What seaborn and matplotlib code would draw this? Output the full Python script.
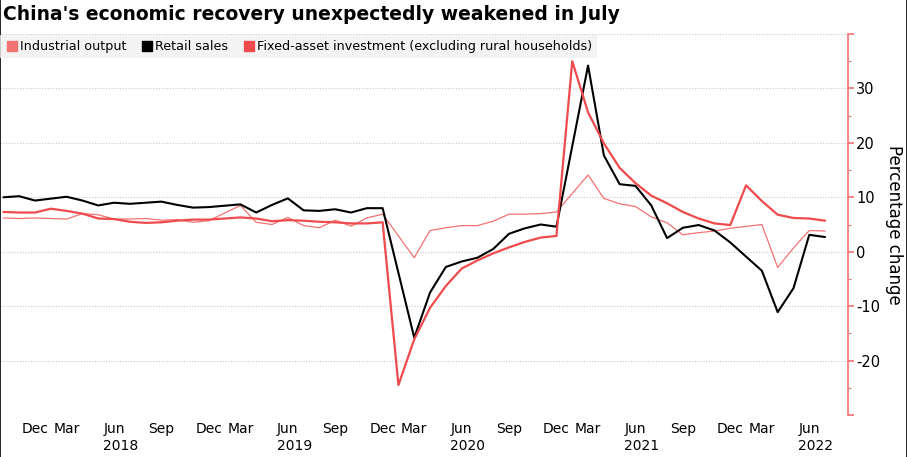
import matplotlib.pyplot as plt
import matplotlib.lines as mlines
import numpy as np
import pandas as pd
import seaborn as sns

# --------------------------------
# DATA (Jan is folded into Feb; Feb missing for monthly series)
# --------------------------------

months = (["Oct", "Nov", "Dec"]
          + ["Feb", "Mar", "Apr", "May", "Jun", "Jul", "Aug", "Sep", "Oct", "Nov", "Dec"] * 4
          + ["Feb", "Mar", "Apr", "May", "Jun", "Jul"])
years = [2017] * 3 + [2018] * 11 + [2019] * 11 + [2020] * 11 + [2021] * 11 + [2022] * 6

industrial = [6.2, 6.1, 6.2,
              None, 6.0, 7.0, 6.8, 6.0, 6.0, 6.1, 5.8, 5.9, 5.4, 5.7,
              None, 8.5, 5.4, 5.0, 6.3, 4.8, 4.4, 5.8, 4.7, 6.2, 6.9,
              None, -1.1, 3.9, 4.4, 4.8, 4.8, 5.6, 6.9, 6.9, 7.0, 7.3,
              None, 14.1, 9.8, 8.8, 8.3, 6.4, 5.3, 3.1, 3.5, 3.8, 4.3,
              None, 5.0, -2.9, 0.7, 3.9, 3.8]

retail = [10.0, 10.2, 9.4,
          None, 10.1, 9.4, 8.5, 9.0, 8.8, 9.0, 9.2, 8.6, 8.1, 8.2,
          None, 8.7, 7.2, 8.6, 9.8, 7.6, 7.5, 7.8, 7.2, 8.0, 8.0,
          None, -15.8, -7.5, -2.8, -1.8, -1.1, 0.5, 3.3, 4.3, 5.0, 4.6,
          None, 34.2, 17.7, 12.4, 12.1, 8.5, 2.5, 4.4, 4.9, 3.9, 1.7,
          None, -3.5, -11.1, -6.7, 3.1, 2.7]

fixed_asset = [7.3, 7.2, 7.2,
               7.9, 7.5, 7.0, 6.1, 6.0, 5.5, 5.3, 5.4, 5.7, 5.9, 5.9,
               6.1, 6.3, 6.1, 5.6, 5.8, 5.7, 5.5, 5.4, 5.2, 5.2, 5.4,
               -24.5, -16.1, -10.3, -6.3, -3.1, -1.6, -0.3, 0.8, 1.8, 2.6, 2.9,
               35.0, 25.6, 19.9, 15.4, 12.6, 10.3, 8.9, 7.3, 6.1, 5.2, 4.9,
               12.2, 9.3, 6.8, 6.2, 6.1, 5.7]

df = pd.DataFrame({
    "pos": np.arange(len(months)),
    "month": months,
    "year": years,
    "Industrial output": industrial,
    "Retail sales": retail,
    "Fixed-asset investment (excluding rural households)": fixed_asset,
})

# --------------------------------
# PLOT
# --------------------------------

sns.set_style("white")
plt.rcParams["font.family"] = ["DejaVu Sans"]
plt.rcParams["text.color"] = "black"
plt.rcParams["axes.labelcolor"] = "black"
plt.rcParams["xtick.color"] = "black"
plt.rcParams["ytick.color"] = "black"

fig = plt.figure(figsize=(9.07, 4.57), dpi=100)
ax = fig.add_axes([0.0, 1 - 415 / 457, 848 / 907, (415 - 34) / 457])

pink = "#f37272"
red = "#ef4a4c"

styles = {
    "Industrial output": dict(color=pink, linewidth=0.9),
    "Retail sales": dict(color="black", linewidth=1.5),
    "Fixed-asset investment (excluding rural households)": dict(color=red, linewidth=1.6),
}

for name, st in styles.items():
    sub = df[["pos", name]].dropna()
    sns.lineplot(data=sub, x="pos", y=name, ax=ax, **st)

ax.set_xlim(-0.215, 53.45)
ax.set_ylim(-30, 40)

# y axis on right
ax.yaxis.tick_right()
ax.yaxis.set_label_position("right")
ax.set_yticks(np.arange(-30, 41, 10))
ax.set_yticklabels(["" if v in (-30, 40) else str(v) for v in range(-30, 41, 10)])
ax.set_yticks(np.arange(-25, 40, 10), minor=True)
ax.tick_params(axis="y", which="major", right=True, length=4, width=1.2,
               color=pink, labelcolor="black", labelsize=10.5, pad=2)
ax.tick_params(axis="y", which="minor", right=True, length=2.5, width=0.8, color=pink)
ax.set_ylabel("Percentage change", rotation=270, fontsize=12, labelpad=16)

for s in ["left", "top", "bottom"]:
    ax.spines[s].set_visible(False)
ax.spines["right"].set_color(pink)
ax.spines["right"].set_linewidth(1.2)

ax.grid(axis="y", which="major", linestyle=(0, (1, 1.5)), color="#c8c8c8", linewidth=0.8)

# x ticks: quarter months, years under them
quarter = df["month"].isin(["Dec", "Mar", "Jun", "Sep"])
ax.set_xticks(df.loc[quarter, "pos"].tolist())
ax.set_xticklabels(df.loc[quarter, "month"].tolist())
ax.tick_params(axis="x", length=0, labelsize=10, pad=5)
ax.set_xlabel("")

for yr in [2018, 2019, 2020, 2021, 2022]:
    jun = df.loc[(df["year"] == yr) & (df["month"] == "Jun"), "pos"].iloc[0]
    ax.text(jun + 0.4, -0.063, str(yr), transform=ax.get_xaxis_transform(),
            ha="center", va="top", fontsize=10)

# title
fig.text(0.003, 1 - 15 / 457, "China's economic recovery unexpectedly weakened in July",
         fontsize=13.5, fontweight="bold", va="center", ha="left")

# legend
handles = [mlines.Line2D([], [], color=st["color"], marker="s", linestyle="none",
                         markersize=7, label=name) for name, st in styles.items()]
leg = fig.legend(handles=handles, loc="upper left", bbox_to_anchor=(0.0, 1 - 35 / 457),
                 ncol=3, frameon=True, fancybox=False, fontsize=9.2,
                 handletextpad=0.15, columnspacing=1.1, borderaxespad=0,
                 borderpad=0.4, handlelength=1.0)
leg.get_frame().set_facecolor("#f0f0f0")
leg.get_frame().set_edgecolor("none")

# thin black border at left and right of image
fig.add_artist(mlines.Line2D([0.0005, 0.0005], [0, 1], color="black", linewidth=1.2))
fig.add_artist(mlines.Line2D([0.9995, 0.9995], [0, 1], color="black", linewidth=1.2))

fig.savefig("out.png", dpi=100)
